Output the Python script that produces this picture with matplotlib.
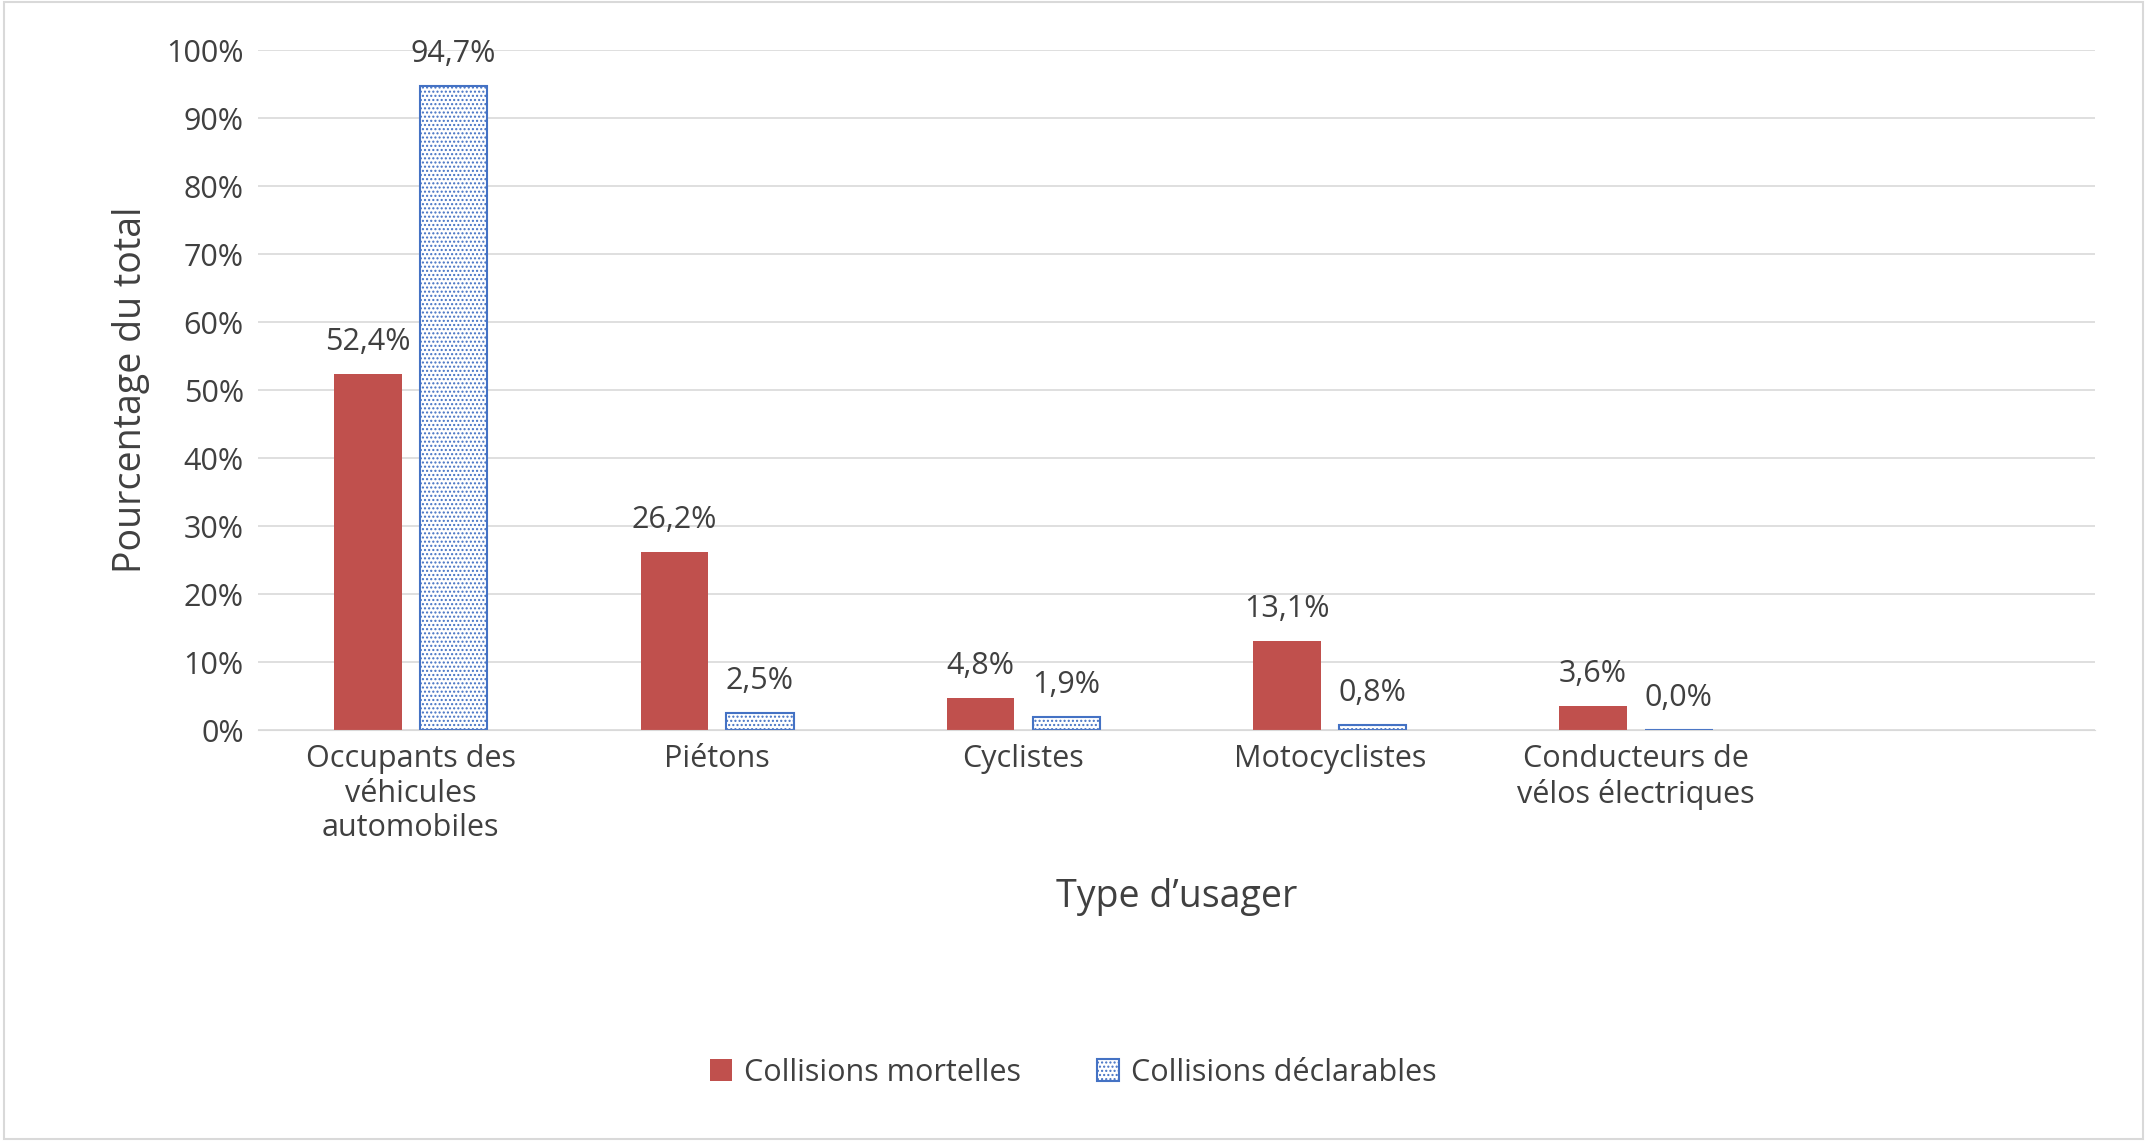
import matplotlib.pyplot as plt
import numpy as np

categories = ["Occupants des\nvéhicules\nautomobiles", "Piétons", "Cyclistes",
              "Motocyclistes", "Conducteurs de\nvélos électriques", ""]
mortelles = [52.4, 26.2, 4.8, 13.1, 3.6]
declarables = [94.7, 2.5, 1.9, 0.8, 0.0]

plt.rcParams['font.family'] = 'Open Sans'
plt.rcParams['hatch.color'] = '#4472c4'
plt.rcParams['hatch.linewidth'] = 1.0

fig = plt.figure(figsize=(21.47, 11.41), dpi=100)
ax = fig.add_axes([0.12, 0.36, 0.856, 0.596])

x = np.arange(len(mortelles))
w = 0.22
b1 = ax.bar(x - 0.14, mortelles, w, color='#c0504d', label='Collisions mortelles')
b2 = ax.bar(x + 0.14, declarables, w, facecolor='white', edgecolor='#4472c4',
            hatch='....', linewidth=1.5, label='Collisions déclarables')

for bars, vals in ((b1, mortelles), (b2, declarables)):
    for b, v in zip(bars, vals):
        ax.text(b.get_x() + b.get_width() / 2, v + 2.5, f"{v:.1f}%".replace('.', ','),
                ha='center', va='bottom', fontsize=22, color='#404040')

ax.set_xlim(-0.5, len(categories) - 0.5)
ax.set_ylim(0, 100)
ax.set_yticks(range(0, 101, 10))
ax.set_yticklabels([f"{t}%" for t in range(0, 101, 10)])
ax.set_xticks(range(len(categories)))
ax.set_xticklabels(categories)
ax.tick_params(axis='both', length=0, labelsize=22, labelcolor='#404040', pad=10)
ax.grid(axis='y', color='#d9d9d9', linewidth=1.2)
ax.set_axisbelow(True)
for s in ['top', 'right', 'left']:
    ax.spines[s].set_visible(False)
ax.spines['bottom'].set_color('#d9d9d9')
ax.set_xlabel("Type d’usager", fontsize=27, color='#404040', labelpad=25)
ax.set_ylabel("Pourcentage du total", fontsize=27, color='#404040', labelpad=12)

fig.legend(handles=[b1, b2], loc='center', bbox_to_anchor=(0.5, 0.06), ncol=2,
           frameon=False, fontsize=22, labelcolor='#404040',
           handlelength=0.7, handleheight=0.7, handletextpad=0.4, columnspacing=2.5)

fig.patches.append(plt.Rectangle((0.002, 0.002), 0.996, 0.996, transform=fig.transFigure,
                                 fill=False, edgecolor='#d9d9d9', linewidth=1.5))
fig.savefig('out.png')
